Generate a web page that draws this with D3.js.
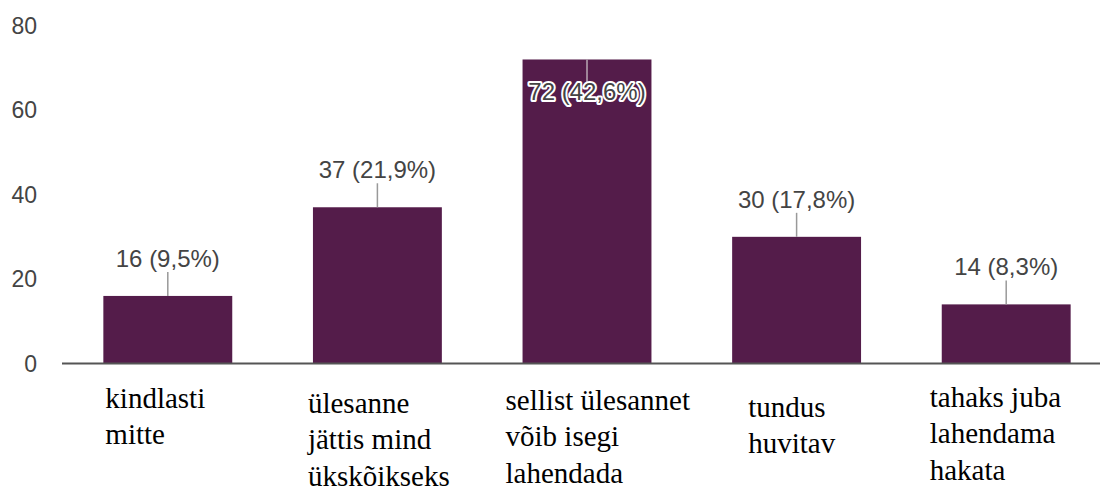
<!DOCTYPE html>
<html>
<head>
<meta charset="utf-8">
<script src="https://cdn.jsdelivr.net/npm/d3@7"></script>
</head>
<body style="margin:0; position:relative; width:1100px; height:488px; overflow:hidden; background:#fff">
<script>
// ---- data ----
const categories = [
  ["kindlasti", "mitte"],
  ["ülesanne", "jättis mind", "ükskõikseks"],
  ["sellist ülesannet", "võib isegi", "lahendada"],
  ["tundus", "huvitav"],
  ["tahaks juba", "lahendama", "hakata"]
];
const counts = [16, 37, 72, 30, 14];
const percents = ["9,5%", "21,9%", "42,6%", "17,8%", "8,3%"];
const yTicks = [0, 20, 40, 60, 80];

// ---- layout (not data) ----
const W = 1100, H = 488;
const labelDx = [2, -5, -17, 16, -12];          // offset of category label from bar left
const labelDy = [44.5, 49.5, 46.5, 53.5, 43.5]; // first baseline below axis
const lineH = 36.5;
const catSize = 29;
const baselineFromTop = 24.3; // for line-height == font-size
const sans = '"Liberation Sans", Arimo, Arial, sans-serif';
const serifFont = '"Liberation Serif", Tinos, "Times New Roman", FreeSerif, Georgia';

const svg = d3.select("body").append("svg").attr("width", W).attr("height", H)
  .style("display", "block").style("position", "absolute").style("left", "0px").style("top", "0px");

const x = d3.scaleBand().domain(d3.range(counts.length)).range([63, 1111]).paddingInner(0.385).paddingOuter(0.1925);
const y = d3.scaleLinear().domain([0, 80]).range([363.5, 25.7]);

// y tick labels
svg.append("g").selectAll("text").data(yTicks).join("text")
  .attr("x", 37).attr("y", d => y(d)).attr("dy", "0.36em")
  .attr("text-anchor", "end")
  .style("font-family", sans)
  .attr("font-size", 23).attr("fill", "#444")
  .text(d => d);

// bars
svg.append("g").selectAll("rect").data(counts).join("rect")
  .attr("x", (d, i) => x(i)).attr("width", x.bandwidth())
  .attr("y", d => y(d)).attr("height", d => y(0) - y(d))
  .attr("fill", "#541c4a");

// baseline
svg.append("line").attr("x1", 62).attr("x2", W).attr("y1", y(0)).attr("y2", y(0))
  .attr("stroke", "#555").attr("stroke-width", 2);

// leader lines and value labels
const leaderLen = 24;
const inside = d => y(d) - leaderLen - 24 < 20;
const g = svg.append("g");
counts.forEach((d, i) => {
  const cx = x(i) + x.bandwidth() / 2;
  const isIn = inside(d);
  const y1 = y(d), y2 = isIn ? y(d) + leaderLen : y(d) - leaderLen;
  g.append("line").attr("x1", cx).attr("x2", cx).attr("y1", y1).attr("y2", y2)
    .attr("stroke", isIn ? "#b8a8b4" : "#999").attr("stroke-width", 1.5);
  const t = g.append("text")
    .attr("x", cx).attr("y", isIn ? y2 + 17 : y2 - 5)
    .attr("text-anchor", "middle")
    .style("font-family", sans)
    .attr("font-size", 24).attr("fill", "#444")
    .text(`${d} (${percents[i]})`);
  if (isIn) t.attr("stroke", "#fff").attr("stroke-width", 4).attr("paint-order", "stroke").attr("stroke-linejoin", "round");
});

// category labels (HTML, serif), one element per line
const catLines = [];
categories.forEach((lines, i) => lines.forEach((ln, j) => catLines.push({ i, j, ln })));
d3.select("body").selectAll("div.cat").data(catLines).join("div")
  .attr("class", "cat")
  .style("position", "absolute")
  .style("left", d => (x(d.i) + labelDx[d.i]) + "px")
  .style("top", d => (y(0) + labelDy[d.i] + d.j * lineH - baselineFromTop) + "px")
  .style("font-family", serifFont)
  .style("font-size", catSize + "px")
  .style("line-height", catSize + "px")
  .style("white-space", "nowrap")
  .style("color", "#000")
  .text(d => d.ln);
</script>
</body>
</html>
